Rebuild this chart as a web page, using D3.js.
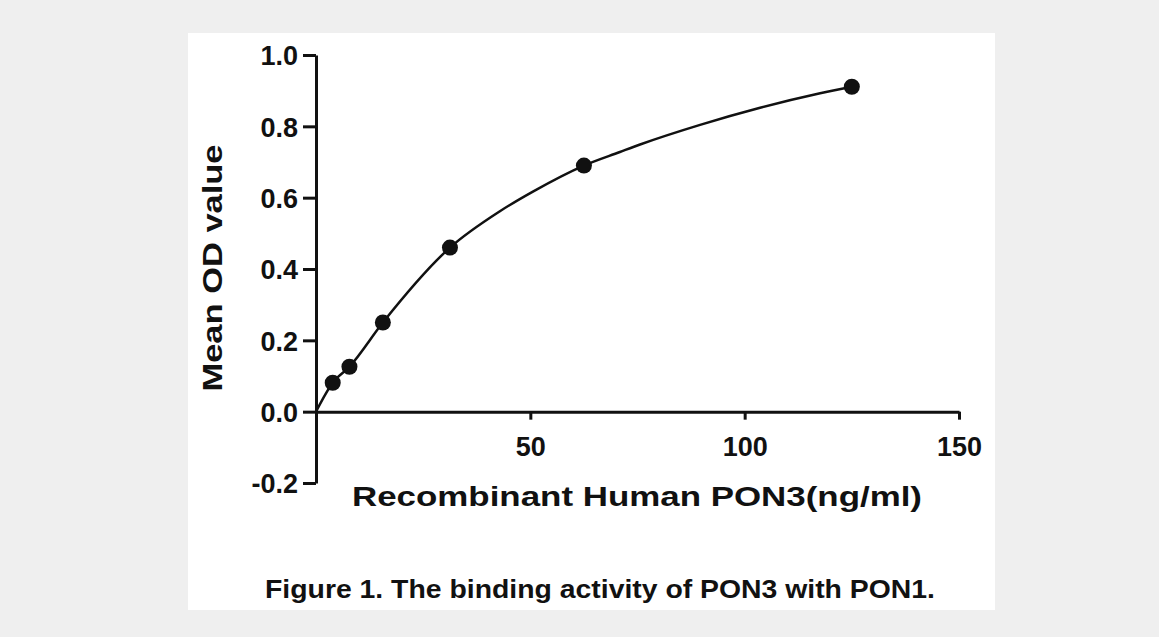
<!DOCTYPE html>
<html>
<head>
<meta charset="utf-8">
<script src="https://cdn.jsdelivr.net/npm/d3@7"></script>
<style>
  html, body { margin: 0; padding: 0; background: #efefef; }
  svg { display: block; }
  text { font-family: "Liberation Sans", Arial, sans-serif; font-weight: bold; fill: #111; }
</style>
</head>
<body>
<svg></svg>
<script>
// concentrations (ng/ml) and mean OD
const concentrations = [3.9, 7.8, 15.6, 31.25, 62.5, 125];
const meanOD = [0.081, 0.126, 0.25, 0.46, 0.69, 0.911];
// fitted curve, sampled off the figure
const fitX = [0, 3.9, 7.8, 15.6, 31.25, 42.9, 50.6, 62.5, 70.9, 75.6, 89.6, 103.6, 117.6, 125];
const fitY = [0, 0.081, 0.126, 0.25, 0.46, 0.562, 0.617, 0.69, 0.728, 0.749, 0.804, 0.852, 0.8925, 0.911];
const xTicks = [50, 100, 150];
const yTicks = [-0.2, 0.0, 0.2, 0.4, 0.6, 0.8, 1.0];

const xTitle = 'Recombinant Human PON3(ng/ml)';
const yTitle = 'Mean OD value';
const caption = 'Figure 1. The binding activity of PON3 with PON1.';

function drawChart() {
    const width = 1159;
    const height = 637;

    const svg = d3.select('svg')
        .attr('width', width)
        .attr('height', height);

    svg.append('rect')
        .attr('x', 0).attr('y', 0)
        .attr('width', width).attr('height', height)
        .attr('fill', '#efefef');

    // white panel
    svg.append('rect')
        .attr('x', 188).attr('y', 33)
        .attr('width', 807).attr('height', 577)
        .attr('fill', '#ffffff');

    const xScale = d3.scaleLinear()
        .domain([0, 150])
        .range([316, 959]);

    const yScale = d3.scaleLinear()
        .domain([-0.2, 1.0])
        .range([483, 55]);

    // y axis (hyphen minus like the original)
    const yAxis = svg.append('g')
        .attr('transform', `translate(${xScale(0)}, 0)`)
        .call(d3.axisLeft(yScale)
            .tickValues(yTicks)
            .tickFormat(d => d.toFixed(1))
            .tickSize(13)
            .tickSizeOuter(0)
            .tickPadding(5));

    // x axis at y = 0
    const xAxis = svg.append('g')
        .attr('transform', `translate(0, ${yScale(0)})`)
        .call(d3.axisBottom(xScale)
            .tickValues(xTicks)
            .tickSize(8)
            .tickSizeOuter(0)
            .tickPadding(17));

    [xAxis, yAxis].forEach(ax => {
        ax.attr('font-size', null).attr('font-family', null);
        ax.selectAll('path, line')
            .attr('stroke', '#111')
            .attr('stroke-width', 3);
        ax.selectAll('text')
            .attr('fill', '#111')
            .style('font-size', '27px')
            .style('font-family', '"Liberation Sans", Arial, sans-serif')
            .style('font-weight', 'bold');
    });
    yAxis.selectAll('text').attr('dy', '0.36em');

    // fitted curve
    const line = d3.line()
        .x(d => xScale(d))
        .y((d, i) => yScale(fitY[i]))
        .curve(d3.curveMonotoneX);

    svg.append('path')
        .datum(fitX)
        .attr('d', line)
        .attr('fill', 'none')
        .attr('stroke', '#111')
        .attr('stroke-width', 2.5);

    svg.selectAll('circle.pt')
        .data(concentrations)
        .enter()
        .append('circle')
        .attr('class', 'pt')
        .attr('cx', d => xScale(d))
        .attr('cy', (d, i) => yScale(meanOD[i]))
        .attr('r', 8)
        .attr('fill', '#111');

    // axis titles
    svg.append('text')
        .attr('x', 637)
        .attr('y', 506)
        .attr('text-anchor', 'middle')
        .style('font-size', '28px')
        .attr('textLength', 570)
        .attr('lengthAdjust', 'spacingAndGlyphs')
        .text(xTitle);

    svg.append('text')
        .attr('transform', 'translate(222, 268) rotate(-90)')
        .attr('text-anchor', 'middle')
        .style('font-size', '28px')
        .attr('textLength', 247)
        .attr('lengthAdjust', 'spacingAndGlyphs')
        .text(yTitle);

    // caption
    svg.append('text')
        .attr('x', 600)
        .attr('y', 598)
        .attr('text-anchor', 'middle')
        .style('font-family', '"Liberation Sans Narrow", "Liberation Sans", Arial, sans-serif')
        .style('font-size', '25px')
        .attr('textLength', 670)
        .attr('lengthAdjust', 'spacingAndGlyphs')
        .text(caption);
}

drawChart();
</script>
</body>
</html>
